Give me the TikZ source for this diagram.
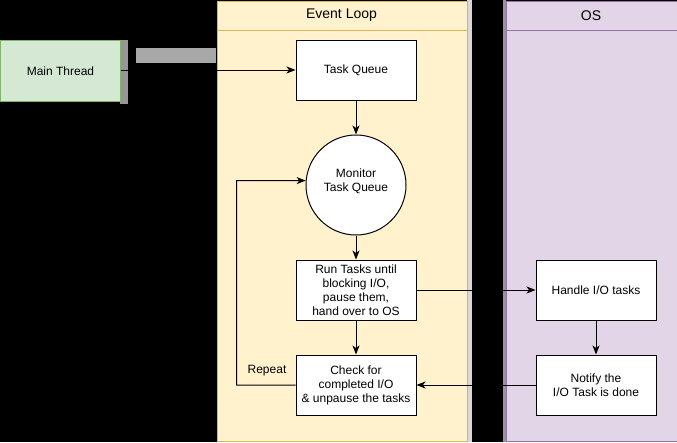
\documentclass[tikz,border=0pt]{standalone}
\usepackage{fontspec}
\setmainfont{Liberation Sans}
\usetikzlibrary{arrows.meta}
\definecolor{elfill}{HTML}{FFF2CC}
\definecolor{elline}{HTML}{D6B656}
\definecolor{osfill}{HTML}{E1D5E7}
\definecolor{osline}{HTML}{9673A6}
\definecolor{mtfill}{HTML}{D5E8D4}
\definecolor{mtline}{HTML}{82B366}
\definecolor{shadowgray}{HTML}{969696}
\definecolor{labelgray}{HTML}{A8A8A8}
\definecolor{stripgray}{HTML}{D8D8D8}
\tikzset{
  txt/.style={font=\fontsize{12}{14}\selectfont, align=center},
  proc/.style={txt, draw=black, fill=white, line width=1pt, minimum width=120pt, minimum height=60pt, inner sep=0pt},
  lane/.style={line width=1pt, anchor=north west, inner sep=0pt},
  head/.style={font=\fontsize{14}{16}\selectfont},
  conn/.style={line width=1pt, -{Stealth[length=9pt,width=7pt,inset=2.5pt]}},
}
\begin{document}
\begin{tikzpicture}[x=1pt,y=-1pt]
\fill[black] (0,0) rectangle (677,442);
\useasboundingbox (0,0) rectangle (677,442);
% lane edge strips
\fill[stripgray] (467,0) rectangle (472,441.5);
\fill[shadowgray] (503,0) rectangle (506,441.5);
% swimlanes
\node[lane, draw=elline, fill=elfill, minimum width=250pt, minimum height=440pt] (eventlane) at (216.5,0.5) {};
\draw[elline, line width=1pt] (216.5,30) -- (466.5,30);
\node[head] (eventhead) at (341.5,15.5) {Event Loop};
\node[lane, draw=osline, fill=osfill, minimum width=171pt, minimum height=440pt] (oslane) at (505.5,0.5) {};
\draw[osline, line width=1pt] (505.5,30) -- (676.5,30);
\node[head] (oshead) at (591,15.5) {OS};
% main thread with shadow
\fill[shadowgray] (120,40) rectangle (128,104);
\node[txt, draw=mtline, fill=mtfill, line width=1pt, minimum width=120pt, minimum height=61pt, inner sep=0pt, anchor=north west] (main) at (0,40) {Main Thread};
\node[fill=labelgray, minimum width=80pt, minimum height=15pt, inner sep=0pt] (mainlabel) at (176,55.5) {};
% process nodes
\node[proc] (taskq) at (356,70) {Task Queue};
\node[draw=black, fill=white, line width=1pt, circle, minimum size=100pt, inner sep=0pt,
      label={[txt, yshift=4pt]center:{Monitor\\Task Queue}}] (monitor) at (356,185) {};
\node[proc] (run) at (356,290) {Run Tasks until\\blocking I/O,\\pause them,\\hand over to OS};
\node[proc] (check) at (356,385) {Check for\\completed I/O\\\& unpause the tasks};
\node[proc] (handle) at (596,290) {Handle I/O tasks};
\node[proc] (notify) at (596,385) {Notify the\\I/O Task is done};
\coordinate (loopbl) at (236.5,385);
\coordinate (looptl) at (236.5,180.6);
% connectors
\draw[conn] (main.east |- taskq.west) -- (taskq.west);
\draw[conn] (taskq.south) -- (monitor.north);
\draw[conn] (monitor.south) -- (run.north);
\draw[conn] (run.south) -- (check.north);
\draw[conn] (run.east) -- (handle.west);
\draw[conn] (handle.south) -- (notify.north);
\draw[conn] (notify.west) -- (check.east);
\draw[conn] (check.west) -- (loopbl) -- (looptl) -- (monitor.175);
\node[txt] (repeat) at (267,371) {Repeat};
\end{tikzpicture}
\end{document}
